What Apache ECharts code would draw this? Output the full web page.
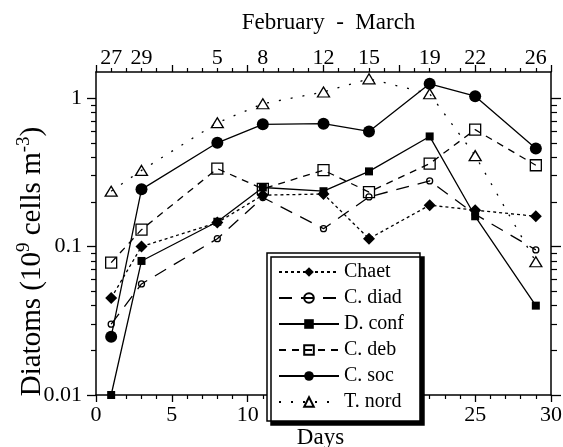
<!DOCTYPE html>
<html>
<head>
<meta charset="utf-8">
<script src="https://cdn.jsdelivr.net/npm/echarts@6/dist/echarts.min.js"></script>
<style>
html,body{margin:0;padding:0;background:#fff;}
#c{width:563px;height:447px;}
</style>
</head>
<body>
<div id="c"></div>
<script>
// ---- data ----
const days = [1, 3, 8, 11, 15, 18, 22, 25, 29];
const dateLabels = ['27', '29', '5', '8', '12', '15', '19', '22', '26'];
const chaet = [0.045, 0.100, 0.145, 0.222, 0.226, 0.113, 0.190, 0.176, 0.160];
const cDiad = [0.030, 0.056, 0.113, 0.214, 0.132, 0.216, 0.277, 0.165, 0.095];
const dConf = [0.010, 0.080, 0.147, 0.250, 0.236, 0.321, 0.552, 0.160, 0.040];
const cDeb  = [0.078, 0.130, 0.335, 0.245, 0.327, 0.233, 0.362, 0.613, 0.353];
const cSoc  = [0.0247, 0.243, 0.500, 0.666, 0.673, 0.597, 1.25, 1.03, 0.457];
const tNord = [0.236, 0.326, 0.683, 0.917, 1.10, 1.35, 1.07, 0.41, 0.079];
const majorYTicks = [0.01, 0.1, 1];
const minorYTicks = [0.02, 0.03, 0.04, 0.05, 0.06, 0.07, 0.08, 0.09, 0.2, 0.3, 0.4, 0.5, 0.6, 0.7, 0.8, 0.9];

const F = '"Liberation Serif", "Times New Roman", serif';
const K = '#000';
const pairs = arr => days.map((d, i) => [d, arr[i]]);

const chart = echarts.init(document.getElementById('c'), null, {renderer: 'canvas'});

const xBase = {
  type: 'value', min: 0, max: 30, interval: 5,
  axisLine: {onZero: false, lineStyle: {color: K, width: 1.5}},
  axisTick: {inside: false, length: 7, lineStyle: {color: K, width: 1.3}},
  minorTick: {show: true, splitNumber: 5, length: 4, lineStyle: {color: K, width: 1.2}},
  splitLine: {show: false}, minorSplitLine: {show: false}
};
const yBase = {
  type: 'log', logBase: 10, min: 0.01, max: 1.5,
  axisLine: {onZero: false, lineStyle: {color: K, width: 1.5}},
  splitLine: {show: false}
};

function lineSeries(name, data, symbol, size, dash, filled) {
  return {
    name, type: 'line', data: pairs(data), xAxisIndex: 0, yAxisIndex: 0,
    symbol, symbolSize: size, showAllSymbol: true,
    lineStyle: {color: K, width: 1.3, type: dash},
    itemStyle: filled ? {color: K, borderColor: K, borderWidth: 0}
                      : {color: 'rgba(0,0,0,0)', borderColor: K, borderWidth: 1.3},
    emphasis: {disabled: true}, animation: false
  };
}

chart.setOption({
  backgroundColor: '#fff',
  animation: false,
  grid: {left: 96, right: 12, top: 72, bottom: 52, containLabel: false, outerBoundsMode: 'none'},
  xAxis: [
    Object.assign({}, xBase, {
      position: 'bottom',
      axisLabel: {color: K, fontFamily: F, fontSize: 22, margin: 9},
      name: 'Days', nameLocation: 'middle', nameGap: 31, nameMoveOverlap: false,
      nameTextStyle: {color: K, fontFamily: F, fontSize: 23, padding: [0, 6, 0, 0]}
    }),
    Object.assign({}, xBase, {
      position: 'top',
      axisLabel: {show: false},
      name: 'February  -  March', nameLocation: 'middle', nameGap: 38, nameMoveOverlap: false,
      nameTextStyle: {color: K, fontFamily: F, fontSize: 23, padding: [0, 0, 0, 10]}
    }),
    {
      type: 'value', min: 0, max: 30, position: 'top',
      axisLine: {show: false, onZero: false}, axisTick: {show: false}, splitLine: {show: false},
      axisLabel: {
        color: K, fontFamily: F, fontSize: 22, margin: 3,
        customValues: days,
        formatter: v => { const i = days.indexOf(v); return i >= 0 ? dateLabels[i] : ''; }
      }
    }
  ],
  yAxis: [
    Object.assign({}, yBase, {
      position: 'left',
      axisTick: {inside: false, length: 9, customValues: majorYTicks, lineStyle: {color: K, width: 1.3}},
      axisLabel: {color: K, fontFamily: F, fontSize: 22, margin: 14, customValues: majorYTicks,
        formatter: v => String(+Number(v).toPrecision(3))},
      name: 'Diatoms (10{sup|9} cells m{sup|-3})',
      nameLocation: 'middle', nameGap: 47, nameMoveOverlap: false,
      nameTextStyle: {color: K, fontFamily: F, fontSize: 29, lineHeight: 34, padding: [0, 56, 0, 0],
        rich: {sup: {fontFamily: F, fontSize: 19, color: K, verticalAlign: 'top', lineHeight: 18}}}
    }),
    Object.assign({}, yBase, {
      position: 'right',
      axisTick: {inside: false, length: 10, customValues: majorYTicks, lineStyle: {color: K, width: 1.3}},
      axisLabel: {show: false}
    }),
    Object.assign({}, yBase, {
      position: 'left', axisLine: {show: false, onZero: false},
      axisTick: {inside: false, length: 5, customValues: minorYTicks, lineStyle: {color: K, width: 1.2}},
      axisLabel: {show: false}
    }),
    Object.assign({}, yBase, {
      position: 'right', axisLine: {show: false, onZero: false},
      axisTick: {inside: false, length: 6, customValues: minorYTicks, lineStyle: {color: K, width: 1.2}},
      axisLabel: {show: false}
    })
  ],
  legend: {
    orient: 'vertical', left: 267, top: 253,
    padding: [9, 16, 9, 11], itemGap: 6, itemWidth: 60, itemHeight: 12,
    backgroundColor: '#fff', borderColor: K, borderWidth: 1.5, borderRadius: 0,
    shadowColor: K, shadowBlur: 0, shadowOffsetX: 4, shadowOffsetY: 4,
    textStyle: {color: K, fontFamily: F, fontSize: 20},
    selectedMode: false,
    data: ['Chaet', 'C. diad', 'D. conf', 'C. deb', 'C. soc', 'T. nord']
  },
  series: [
    lineSeries('Chaet', chaet, 'diamond', 12, [3, 3], true),
    lineSeries('C. diad', cDiad, 'circle', 6, [13, 9], false),
    lineSeries('D. conf', dConf, 'rect', 8, 'solid', true),
    lineSeries('C. deb', cDeb, 'rect', 11, [7, 6], false),
    lineSeries('C. soc', cSoc, 'circle', 12, 'solid', true),
    lineSeries('T. nord', tNord, 'triangle', [12, 10], [2, 10], false)
  ]
});
</script>
</body>
</html>
